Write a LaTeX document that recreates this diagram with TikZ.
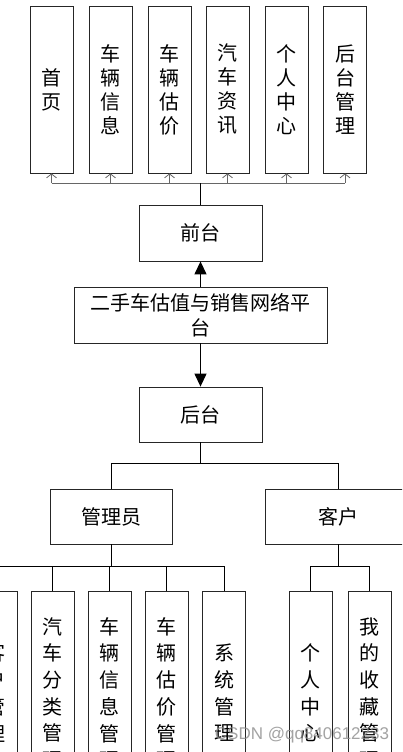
\documentclass[tikz,border=0pt]{standalone}
\usepackage{fontspec}
\setmainfont{Noto Sans CJK SC}
\newfontfamily\wmfont{Liberation Sans}
\usetikzlibrary{arrows.meta}
\tikzset{
  box/.style={draw=black!85, line width=0.8pt, fill=white, inner sep=0pt, align=center,
    font=\fontsize{20}{24}\selectfont},
  tallbox/.style={box, minimum width=43pt, minimum height=167pt},
  lowbox/.style={box, minimum width=43pt, minimum height=204pt, font=\fontsize{20}{26.7}\selectfont},
  widebox/.style={box, minimum height=56pt},
  link/.style={draw=black, line width=0.8pt},
  graylink/.style={draw=black!60, line width=0.9pt},
  openarrow/.style={draw=black!60, line width=0.8pt, -{Straight Barb[length=4pt,width=10pt]}},
  fillarrow/.style={draw=black, line width=1.2pt, -{Triangle[length=13pt,width=12pt]}},
}
\begin{document}
\begin{tikzpicture}[x=1pt,y=-1pt]
\useasboundingbox (0,0) rectangle (402,752);
\clip (0,0) rectangle (402,752);
\fill[white] (0,0) rectangle (402,752);
% top row
\node[tallbox] (b1) at (51.5,89.5) {首\\页};
\node[tallbox] (b2) at (110.5,89.5) {车\\辆\\信\\息};
\node[tallbox] (b3) at (169.5,89.5) {车\\辆\\估\\价};
\node[tallbox] (b4) at (227.5,89.5) {汽\\车\\资\\讯};
\node[tallbox] (b5) at (286.5,89.5) {个\\人\\中\\心};
\node[tallbox] (b6) at (345,89.5) {后\\台\\管\\理};
% middle
\node[widebox, minimum width=123pt] (qt) at (200.5,233) {前台};
\node[widebox, minimum width=253pt, font=\fontsize{20}{25}\selectfont] (pf) at (200.5,315) {二手车估值与销售网络平\\台};
\node[widebox, minimum width=123pt, minimum height=55pt] (ht) at (200.5,414.5) {后台};
\node[widebox, minimum width=122pt, minimum height=55pt] (gly) at (111,516.5) {管理员};
\node[widebox, minimum width=146pt, minimum height=55pt] (kh) at (338,516.5) {客户};
% bottom row
\node[lowbox] (c1) at (-4.5,693) {客\\户\\管\\理};
\node[lowbox] (c2) at (52.5,693) {汽\\车\\分\\类\\管\\理};
\node[lowbox] (c3) at (109.5,693) {车\\辆\\信\\息\\管\\理};
\node[lowbox] (c4) at (166.5,693) {车\\辆\\估\\价\\管\\理};
\node[lowbox] (c5) at (224,693) {系\\统\\管\\理};
\node[lowbox] (c6) at (310.5,693) {个\\人\\中\\心};
\node[lowbox] (c7) at (369.5,693) {我\\的\\收\\藏\\管\\理};
% top bus
\coordinate (bt) at (200.5,183);
\draw[graylink] (b1.south |- bt) -- (b6.south |- bt);
\foreach \i in {1,...,6} \draw[openarrow] (b\i.south |- bt) -- (b\i.south);
\draw[link] (bt) -- (qt.north);
% platform arrows
\draw[fillarrow] (pf.north) -- (qt.south);
\draw[fillarrow] (pf.south) -- (ht.north);
% back end tree
\coordinate (hb) at (200.5,463);
\draw[link] (ht.south) -- (hb);
\draw[link] (gly.north |- hb) -- (kh.north |- hb);
\draw[link] (gly.north |- hb) -- (gly.north);
\draw[link] (kh.north |- hb) -- (kh.north);
\coordinate (gb) at (111,566);
\draw[link] (gly.south) -- (gb);
\draw[link] (c1.north |- gb) -- (c5.north |- gb);
\foreach \i in {1,...,5} \draw[link] (c\i.north |- gb) -- (c\i.north);
\coordinate (kb) at (338,566);
\draw[link] (kh.south) -- (kb);
\draw[link] (c6.north |- kb) -- (c7.north |- kb);
\foreach \i in {6,7} \draw[link] (c\i.north |- kb) -- (c\i.north);
% watermark
\node[text=black!45, opacity=0.8, font=\wmfont\fontsize{17}{17}\selectfont, inner sep=0pt] (wm) at (302,735) {CSDN @qq840612233};
\end{tikzpicture}
\end{document}
